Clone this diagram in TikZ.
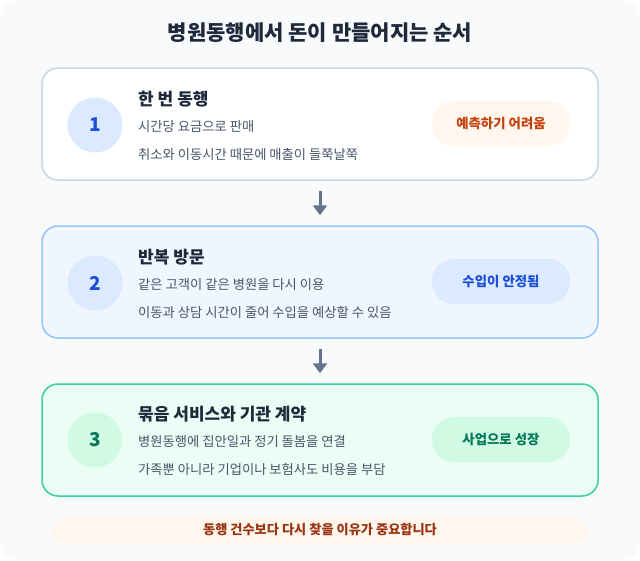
\documentclass[tikz,border=0pt]{standalone}
\usepackage{fontspec}
\setmainfont{Noto Sans CJK KR}
\usetikzlibrary{arrows.meta}
\definecolor{bg}{HTML}{F8FAFC}
\definecolor{titlec}{HTML}{1E293B}
\definecolor{subc}{HTML}{475569}
\definecolor{bd1}{HTML}{CBD5E1}
\definecolor{bd2}{HTML}{93C5FD}
\definecolor{bd3}{HTML}{34D399}
\definecolor{f2}{HTML}{EFF6FF}
\definecolor{f3}{HTML}{ECFDF5}
\definecolor{cblue}{HTML}{DBEAFE}
\definecolor{cgreen}{HTML}{D1FAE5}
\definecolor{corange}{HTML}{FFF7ED}
\definecolor{tblue}{HTML}{1D4ED8}
\definecolor{tgreen}{HTML}{047857}
\definecolor{torange}{HTML}{C2410C}
\definecolor{tbrown}{HTML}{9A3412}
\definecolor{arrowc}{HTML}{64748B}
\tikzset{
  card/.style={draw, line width=1.5pt, rounded corners=16pt, minimum width=556pt, minimum height=112pt, inner sep=0pt},
  numcirc/.style={circle, minimum size=55pt, inner sep=0pt, font=\fontsize{19}{22}\selectfont\bfseries},
  cardtitle/.style={anchor=west, inner sep=0pt, font=\fontsize{17}{20}\selectfont\bfseries, text=titlec},
  cardsub/.style={anchor=west, inner sep=0pt, font=\fontsize{13.3}{15}\selectfont, text=subc},
  pill/.style={rounded corners=22pt, minimum width=138pt, minimum height=45pt, inner sep=0pt, font=\fontsize{13.4}{15}\selectfont\bfseries},
  flow/.style={draw=arrowc, line width=3pt, -{Triangle[width=14pt,length=10pt]}}
}
\begin{document}
\begin{tikzpicture}[x=1pt,y=-1pt]
\useasboundingbox (0,0) rectangle (640,560);
\fill[bg, rounded corners=18pt] (0,0) rectangle (640,560);
\node[inner sep=0pt, font=\fontsize{21}{24}\selectfont\bfseries, text=titlec] (title) at (320,33) {병원동행에서 돈이 만들어지는 순서};

% card 1
\node[card, draw=bd1, fill=white] (c1) at (320,124) {};
\node[numcirc, fill=cblue, text=tblue] (n1) at (95,125) {1};
\node[cardtitle] (t1) at (138,99) {한 번 동행};
\node[cardsub] (s1a) at (138,127) {시간당 요금으로 판매};
\node[cardsub] (s1b) at (138,154) {취소와 이동시간 때문에 매출이 들쭉날쭉};
\node[pill, fill=corange, text=torange] (p1) at (501,123.5) {예측하기 어려움};

% card 2
\node[card, draw=bd2, fill=f2] (c2) at (320,282) {};
\node[numcirc, fill=cblue, text=tblue] (n2) at (95,283) {2};
\node[cardtitle] (t2) at (138,257) {반복 방문};
\node[cardsub] (s2a) at (138,285) {같은 고객이 같은 병원을 다시 이용};
\node[cardsub] (s2b) at (138,312) {이동과 상담 시간이 줄어 수입을 예상할 수 있음};
\node[pill, fill=cblue, text=tblue] (p2) at (501,281.5) {수입이 안정됨};

% card 3
\node[card, draw=bd3, fill=f3] (c3) at (320,440) {};
\node[numcirc, fill=cgreen, text=tgreen] (n3) at (95,440) {3};
\node[cardtitle] (t3) at (138,414) {묶음 서비스와 기관 계약};
\node[cardsub] (s3a) at (138,442) {병원동행에 집안일과 정기 돌봄을 연결};
\node[cardsub] (s3b) at (138,469) {가족뿐 아니라 기업이나 보험사도 비용을 부담};
\node[pill, fill=cgreen, text=tgreen] (p3) at (501,439.5) {사업으로 성장};

% arrows
\draw[flow] ([yshift=-10pt]c1.south) -- ([yshift=10pt]c2.north);
\draw[flow] ([yshift=-10pt]c2.south) -- ([yshift=10pt]c3.north);

% banner
\node[fill=corange, rounded corners=14pt, minimum width=536pt, minimum height=28pt, inner sep=0pt, font=\fontsize{13.2}{15}\selectfont\bfseries, text=tbrown] (banner) at (320,530) {동행 건수보다 다시 찾을 이유가 중요합니다};
\end{tikzpicture}
\end{document}
